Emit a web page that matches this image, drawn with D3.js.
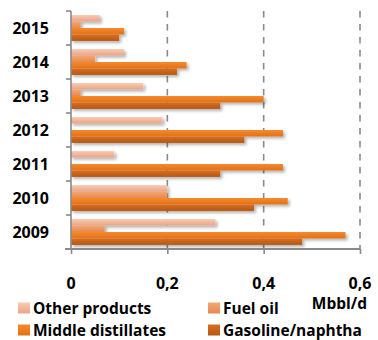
<!DOCTYPE html>
<html>
<head>
<meta charset="utf-8">
<script src="https://cdn.jsdelivr.net/npm/d3@7/dist/d3.min.js"></script>
<style>
  html, body { margin: 0; padding: 0; background: #fff; }
  svg { display: block; }
  text { font-family: "Open Sans", Lato, "Liberation Sans", sans-serif; font-weight: bold; fill: #000; }
</style>
</head>
<body>
<svg id="chart" width="378" height="340"></svg>
<script>
// Refinery output by product, million barrels per day
const years = ["2015", "2014", "2013", "2012", "2011", "2010", "2009"];
const seriesNames = ["Other products", "Fuel oil", "Middle distillates", "Gasoline/naphtha"];
const otherProducts     = [0.06, 0.11, 0.15, 0.19, 0.09, 0.20, 0.30];
const fuelOil           = [0.02, 0.05, 0.02, 0.00, 0.00, 0.20, 0.07];
const middleDistillates = [0.11, 0.24, 0.40, 0.44, 0.44, 0.45, 0.57];
const gasolineNaphtha   = [0.10, 0.22, 0.31, 0.36, 0.31, 0.38, 0.48];
const xTicks = [0, 0.2, 0.4, 0.6];
const unitLabel = "Mbbl/d";

const seriesValues = [otherProducts, fuelOil, middleDistillates, gasolineNaphtha];
const colors = [
  ["#f8cbb3", "#eaa486"],
  ["#f4a772", "#e48a50"],
  ["#f8892a", "#e0721a"],
  ["#d86e22", "#b65812"]
];

const svg = d3.select("#chart");
const plotLeft = 71, plotRight = 360, plotTop = 11, plotBottom = 249;

const x = d3.scaleLinear().domain([0, 0.6]).range([plotLeft, plotRight]);
const y = d3.scaleBand().domain(years).range([plotTop, plotBottom]).paddingInner(0.24).paddingOuter(0.12);
const ySub = d3.scaleBand().domain(seriesNames).range([0, y.bandwidth()]);

const defs = svg.append("defs");
colors.forEach((c, i) => {
  const g = defs.append("linearGradient").attr("id", "grad" + i)
    .attr("x1", 0).attr("y1", 0).attr("x2", 0).attr("y2", 1);
  g.append("stop").attr("offset", "0%").attr("stop-color", c[0]);
  g.append("stop").attr("offset", "100%").attr("stop-color", c[1]);
});
const shadow = defs.append("filter").attr("id", "shadow")
  .attr("x", "-5%").attr("y", "-50%").attr("width", "120%").attr("height", "250%");
shadow.append("feDropShadow").attr("dx", 2).attr("dy", 2)
  .attr("stdDeviation", 1.5).attr("flood-color", "#000").attr("flood-opacity", 0.3);

// dashed vertical gridlines
svg.append("g").selectAll("line").data(xTicks.filter(d => d > 0)).join("line")
  .attr("x1", d => x(d)).attr("x2", d => x(d))
  .attr("y1", plotTop).attr("y2", plotBottom)
  .attr("stroke", "#8a8a8a").attr("stroke-width", 1.6)
  .attr("stroke-dasharray", "6.5,6.5");

// bars
const bars = svg.append("g").attr("filter", "url(#shadow)");
seriesValues.forEach((vals, si) => {
  bars.append("g").selectAll("rect").data(years.map((yr, i) => ({ yr, v: vals[i] })))
    .join("rect")
    .attr("x", x(0))
    .attr("y", d => y(d.yr) + ySub(seriesNames[si]))
    .attr("width", d => x(d.v) - x(0))
    .attr("height", ySub.bandwidth())
    .attr("fill", "url(#grad" + si + ")");
});

// left axis with category boundary ticks
svg.append("line").attr("x1", plotLeft).attr("x2", plotLeft).attr("y1", plotTop).attr("y2", plotBottom)
  .attr("stroke", "#8a8a8a").attr("stroke-width", 1.6);
const boundaries = d3.range(years.length + 1).map(i => plotTop + i * y.step());
svg.append("g").selectAll("line").data(boundaries).join("line")
  .attr("x1", plotLeft - 5).attr("x2", plotLeft)
  .attr("y1", d => d).attr("y2", d => d)
  .attr("stroke", "#8a8a8a").attr("stroke-width", 1.6);
svg.append("g").selectAll("text").data(years).join("text")
  .attr("x", 49).attr("y", d => y(d) + y.bandwidth() / 2)
  .attr("text-anchor", "end").attr("dominant-baseline", "central")
  .attr("font-size", 16).text(d => d);

// bottom axis
const xAxis = svg.append("g").attr("transform", `translate(0,${plotBottom})`)
  .call(d3.axisBottom(x).tickValues(xTicks).tickSize(5).tickFormat(""));
xAxis.select(".domain").attr("d", `M${plotLeft - 6},0H${plotRight}`).attr("stroke", "#8a8a8a").attr("stroke-width", 1.8);
xAxis.selectAll(".tick line").attr("stroke", "#8a8a8a").attr("stroke-width", 1.6);
svg.append("g").selectAll("text").data(xTicks).join("text")
  .attr("x", d => x(d)).attr("y", 283)
  .attr("text-anchor", "middle").attr("dominant-baseline", "central")
  .attr("font-size", 16).text(d => d3.format(".1~f")(d).replace(".", ","));
svg.append("text").attr("x", 367).attr("y", 303)
  .attr("text-anchor", "end").attr("dominant-baseline", "central")
  .attr("font-size", 15.5).text(unitLabel);

// legend
const legendPos = [[18, 308], [208, 308], [18, 330], [208, 330]];
const legend = svg.append("g").selectAll("g").data(seriesNames).join("g")
  .attr("transform", (d, i) => `translate(${legendPos[i][0]},${legendPos[i][1]})`);
legend.append("rect").attr("x", 0).attr("y", -5.5).attr("width", 12).attr("height", 11)
  .attr("fill", (d, i) => `url(#grad${i})`);
legend.append("text").attr("x", 15).attr("y", 0).attr("dominant-baseline", "central")
  .attr("font-size", 15.5).text(d => d);
</script>
</body>
</html>
